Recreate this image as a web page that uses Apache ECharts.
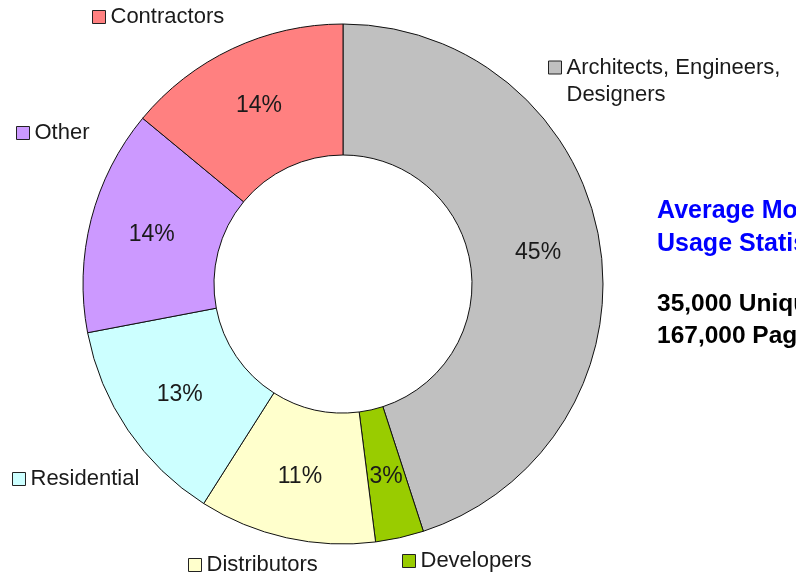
<!DOCTYPE html>
<html>
<head>
<meta charset="utf-8">
<script src="https://cdn.jsdelivr.net/npm/echarts@6/dist/echarts.min.js"></script>
<style>
    html, body { margin: 0; padding: 0; background: #fff; }
    #chart { width: 796px; height: 575px; }
</style>
</head>
<body>
<div id="chart"></div>
<script>
// 数据
const categories = ['Architects, Engineers, Designers', 'Developers', 'Distributors', 'Residential', 'Other', 'Contractors'];
const shares = [45, 3, 11, 13, 14, 14];
const palette = ['#c0c0c0', '#99cc00', '#ffffcc', '#ccffff', '#cc99ff', '#ff8080'];
const statTitle = ['Average Monthly', 'Usage Statistics'];
const statLines = ['35,000 Unique Visitors', '167,000 Page Views'];

const FONT = '"Liberation Sans", Arial, sans-serif';

// 图例位置（每个图例单独放）
const legendPos = {
    'Contractors': { left: 92, top: 5 },
    'Other': { left: 16, top: 121 },
    'Residential': { left: 12, top: 467 },
    'Distributors': { left: 188, top: 553 },
    'Developers': { left: 402, top: 549 }
};

const legends = categories.map(name => {
    const base = {
        data: [name],
        orient: 'horizontal',
        padding: 0,
        selectedMode: false,
        icon: 'rect',
        itemWidth: 13,
        itemHeight: 13,
        itemStyle: { borderColor: '#222', borderWidth: 1 },
        textStyle: { fontFamily: FONT, fontSize: 22, color: '#1a1a1a', lineHeight: 24 }
    };
    if (legendPos[name]) return Object.assign(base, legendPos[name]);
    // 两行的那个：前面加一个空行，让方块对齐第一行
    return Object.assign(base, {
        left: 548,
        top: 27,
        formatter: () => '\u00a0\nArchitects, Engineers,\nDesigners',
        textStyle: { fontFamily: FONT, fontSize: 22, color: '#1a1a1a', lineHeight: 27 }
    });
});

const chart = echarts.init(document.getElementById('chart'));
chart.setOption({
    animation: false,
    backgroundColor: '#fff',
    title: {
        left: 657,
        top: 195,
        padding: 0,
        itemGap: 27,
        text: statTitle.join('\n'),
        subtext: statLines.join('\n'),
        textStyle: { fontFamily: FONT, fontSize: 25, fontWeight: 'bold', color: '#0000ff', lineHeight: 33 },
        subtextStyle: { fontFamily: FONT, fontSize: 24.5, fontWeight: 'bold', color: '#000', lineHeight: 32 }
    },
    legend: legends,
    series: [
        {
            type: 'pie',
            center: [343, 284],
            radius: [129, 260],
            startAngle: 90,
            clockwise: true,
            avoidLabelOverlap: false,
            emphasis: { disabled: true },
            itemStyle: { borderColor: '#111', borderWidth: 1 },
            label: {
                show: true,
                position: 'inside',
                formatter: '{c}%',
                fontFamily: FONT,
                fontSize: 23,
                color: '#1a1a1a'
            },
            labelLine: { show: false },
            data: categories.map((name, i) => ({
                name: name,
                value: shares[i],
                itemStyle: { color: palette[i] }
            }))
        }
    ]
});
</script>
</body>
</html>
